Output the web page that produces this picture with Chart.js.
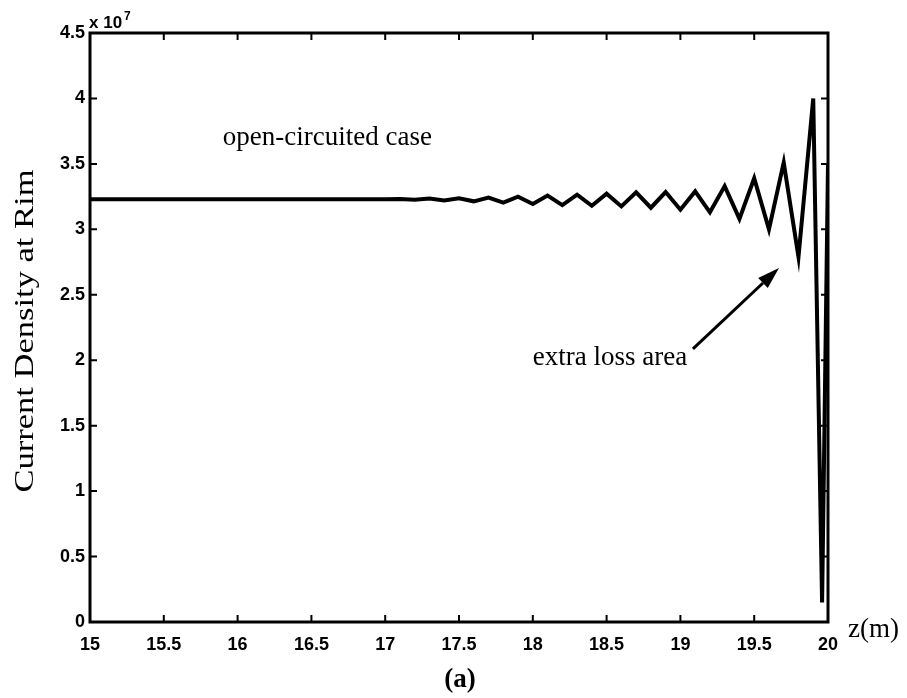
<!DOCTYPE html>
<html>
<head>
<meta charset="utf-8">
<title>Current Density at Rim</title>
<script src="https://cdn.jsdelivr.net/npm/chart.js@4.4.1/dist/chart.umd.min.js"></script>
<style>
  html, body { margin: 0; padding: 0; background: #fff; }
  #wrap { width: 907px; height: 698px; }
</style>
</head>
<body>
<div id="wrap"><canvas id="rimChart" width="907" height="698"></canvas></div>
<script>
// z position along the conductor (m)
const zValues = [
  15.0, 15.5, 16.0, 16.5, 17.0,
  17.1, 17.2, 17.3, 17.4, 17.5, 17.6, 17.7, 17.8, 17.9, 18.0,
  18.1, 18.2, 18.3, 18.4, 18.5, 18.6, 18.7, 18.8, 18.9, 19.0,
  19.1, 19.2, 19.3, 19.4, 19.5, 19.6, 19.7, 19.8, 19.9, 19.96, 20.0
];
// current density at the rim, in units of 1e7
const densityValues = [
  3.23, 3.23, 3.23, 3.23, 3.23,
  3.232, 3.226, 3.236, 3.22, 3.238, 3.214, 3.242, 3.204, 3.25, 3.194,
  3.258, 3.185, 3.265, 3.18, 3.272, 3.175, 3.282, 3.165, 3.285, 3.15,
  3.29, 3.13, 3.33, 3.08, 3.39, 3.00, 3.51, 2.79, 4.00, 0.15, 3.50
];

const xTicks = [15, 15.5, 16, 16.5, 17, 17.5, 18, 18.5, 19, 19.5, 20];
const yTicks = [0, 0.5, 1, 1.5, 2, 2.5, 3, 3.5, 4, 4.5];

// annotations placed in data coordinates
const caseLabel = { text: "open-circuited case", z: 15.9, y: 3.70 };
const lossLabel = { text: "extra loss area", z: 18.0, y: 2.02 };
const lossArrow = { fromZ: 19.085, fromY: 2.086, toZ: 19.668, toY: 2.705 };

const tickFont = { family: "Liberation Sans", size: 18, weight: "bold" };

const frame = {
  id: "frame",
  afterDatasetsDraw(chart) {
    const { ctx, chartArea: a, scales: { x, y } } = chart;
    ctx.save();
    ctx.strokeStyle = "#000";
    ctx.fillStyle = "#000";

    // axis box
    ctx.lineWidth = 3;
    ctx.strokeRect(a.left, a.top, a.right - a.left, a.bottom - a.top);

    // inward ticks on all four sides
    const len = 7;
    ctx.lineWidth = 2;
    ctx.beginPath();
    xTicks.forEach(v => {
      const px = x.getPixelForValue(v);
      ctx.moveTo(px, a.bottom); ctx.lineTo(px, a.bottom - len);
      ctx.moveTo(px, a.top); ctx.lineTo(px, a.top + len);
    });
    yTicks.forEach(v => {
      const py = y.getPixelForValue(v);
      ctx.moveTo(a.left, py); ctx.lineTo(a.left + len, py);
      ctx.moveTo(a.right, py); ctx.lineTo(a.right - len, py);
    });
    ctx.stroke();

    // exponent above the y axis
    ctx.textBaseline = "alphabetic";
    ctx.textAlign = "left";
    ctx.font = "bold 17px 'Liberation Sans'";
    ctx.fillText("x 10", a.left - 1, a.top - 5);
    const w = ctx.measureText("x 10").width;
    ctx.font = "bold 12px 'Liberation Sans'";
    ctx.fillText("7", a.left + w + 1, a.top - 13);

    // y axis title, stretched along its length
    ctx.font = "27px 'Liberation Serif'";
    const title = "Current Density at Rim";
    const stretch = 323 / ctx.measureText(title).width;
    ctx.save();
    ctx.translate(26, 331);
    ctx.rotate(-Math.PI / 2);
    ctx.scale(stretch, 1);
    ctx.textAlign = "center";
    ctx.textBaseline = "middle";
    ctx.fillText(title, 0, 0);
    ctx.restore();

    // x axis title
    ctx.textAlign = "left";
    ctx.textBaseline = "middle";
    ctx.fillText("z(m)", a.right + 20, a.bottom + 8);

    // annotations
    ctx.fillText(caseLabel.text, x.getPixelForValue(caseLabel.z), y.getPixelForValue(caseLabel.y));
    ctx.fillText(lossLabel.text, x.getPixelForValue(lossLabel.z), y.getPixelForValue(lossLabel.y));

    const x0 = x.getPixelForValue(lossArrow.fromZ), y0 = y.getPixelForValue(lossArrow.fromY);
    const x1 = x.getPixelForValue(lossArrow.toZ), y1 = y.getPixelForValue(lossArrow.toY);
    const ang = Math.atan2(y1 - y0, x1 - x0);
    const head = 22, half = 7;
    const bx = x1 - head * Math.cos(ang), by = y1 - head * Math.sin(ang);
    ctx.lineWidth = 3;
    ctx.beginPath();
    ctx.moveTo(x0, y0);
    ctx.lineTo(bx, by);
    ctx.stroke();
    ctx.beginPath();
    ctx.moveTo(x1, y1);
    ctx.lineTo(bx + half * Math.sin(ang), by - half * Math.cos(ang));
    ctx.lineTo(bx - half * Math.sin(ang), by + half * Math.cos(ang));
    ctx.closePath();
    ctx.fill();

    // panel caption
    ctx.font = "bold 27px 'Liberation Serif'";
    ctx.textAlign = "center";
    ctx.fillText("(a)", (a.left + a.right) / 2 + 1, 680);
    ctx.restore();
  }
};

new Chart(document.getElementById("rimChart"), {
  type: "line",
  data: {
    datasets: [{
      data: zValues.map((z, i) => ({ x: z, y: densityValues[i] })),
      borderColor: "#000",
      borderWidth: 4,
      pointRadius: 0,
      tension: 0,
      fill: false
    }]
  },
  options: {
    responsive: false,
    animation: false,
    layout: { padding: { left: 0, top: 33, right: 79, bottom: 0 } },
    plugins: { legend: { display: false }, tooltip: { enabled: false } },
    scales: {
      x: {
        type: "linear",
        min: 15,
        max: 20,
        afterBuildTicks: s => { s.ticks = xTicks.map(v => ({ value: v })); },
        afterFit: s => { s.height = 76; },
        grid: { display: false, drawTicks: false },
        border: { display: false },
        ticks: {
          color: "#000",
          font: tickFont,
          padding: 12,
          maxRotation: 0,
          autoSkip: false,
          callback: v => String(v)
        }
      },
      y: {
        min: 0,
        max: 4.5,
        afterBuildTicks: s => { s.ticks = yTicks.map(v => ({ value: v })); },
        afterFit: s => { s.width = 90; },
        grid: { display: false, drawTicks: false },
        border: { display: false },
        ticks: {
          color: "#000",
          font: tickFont,
          padding: 5,
          autoSkip: false,
          callback: v => String(v)
        }
      }
    }
  },
  plugins: [frame]
});
</script>
</body>
</html>
